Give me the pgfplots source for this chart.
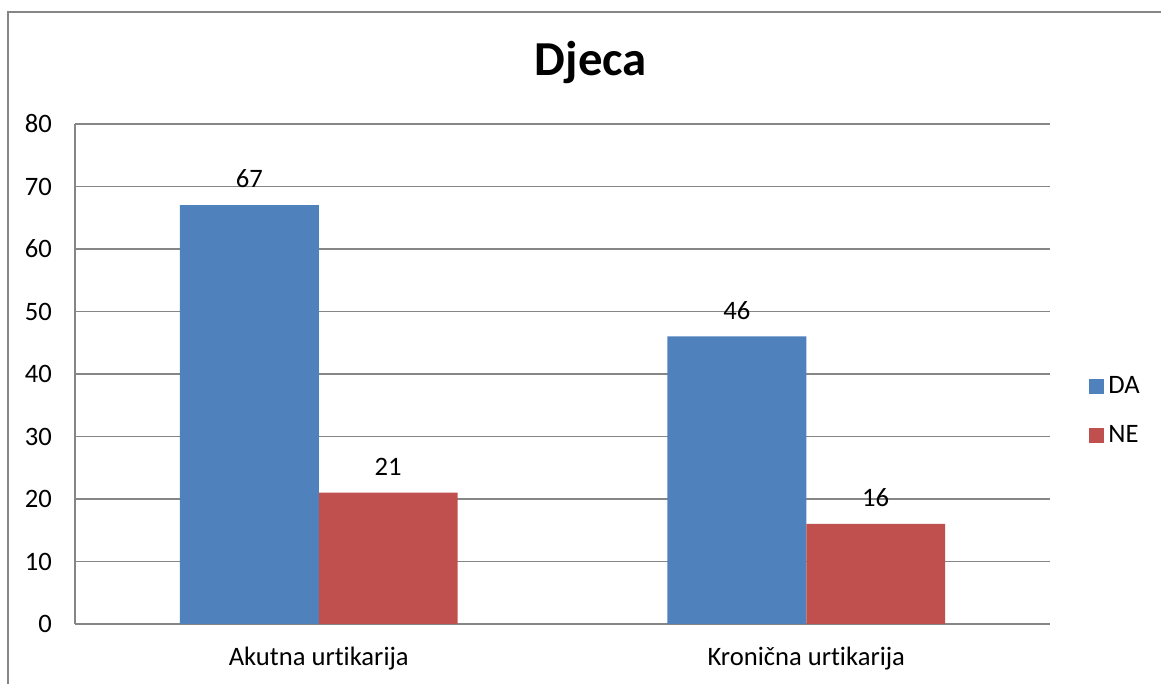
\documentclass[border=0pt]{standalone}
\usepackage{pgfplots}
\pgfplotsset{compat=1.18}
\usepackage{fontspec}
\setmainfont{Carlito}[Ligatures={NoCommon}]
\definecolor{cblue}{HTML}{4F81BD}
\definecolor{cred}{HTML}{C0504D}
\definecolor{gline}{HTML}{868686}
\begin{document}
\begin{tikzpicture}[x=0.5pt,y=0.5pt]
\useasboundingbox (0,0) rectangle (1161,684);
\draw[gline,line width=1pt] (8,0) -- (8,672) -- (1161,672);
\node[font=\fontsize{24.4}{28}\selectfont\bfseries] at (591,621) {Djeca};
\begin{axis}[
  at={(37.5pt,30pt)}, anchor=south west,
  scale only axis, width=487.5pt, height=250pt,
  xmin=-0.5, xmax=1.5, ymin=0, ymax=80,
  ytick={0,10,...,80},
  xtick={0,1}, xticklabels={Akutna urtikarija, Kronična urtikarija},
  axis lines=left, axis line style={-, gline, line width=0.8pt},
  major tick length=0pt,
  ymajorgrids, grid style={gline, line width=0.8pt},
  /pgf/number format/assume math mode=true,
  tick label style={font=\fontsize{13.3}{15}\selectfont, black},
  yticklabel style={xshift=-8pt},
  xticklabel style={yshift=-8pt},
  ybar, bar width=0.285,
  nodes near coords,
  every node near coord/.append style={font=\fontsize{13.3}{15}\selectfont, black, yshift=5pt},
  legend style={at={(1.040,0.426)}, anchor=west, draw=none, fill=none,
    font=\fontsize{13.3}{15}\selectfont, row sep=10pt, inner sep=0pt},
  legend cell align=left,
  legend image code/.code={\fill[#1] (0pt,-3.75pt) rectangle (7.5pt,3.75pt);},
]
\addplot[fill=cblue, draw=none, bar shift=-0.1425] coordinates {(0,67) (1,46)};
\addplot[fill=cred, draw=none, bar shift=0.1425] coordinates {(0,21) (1,16)};
\legend{DA, NE}
\end{axis}
\end{tikzpicture}
\end{document}
